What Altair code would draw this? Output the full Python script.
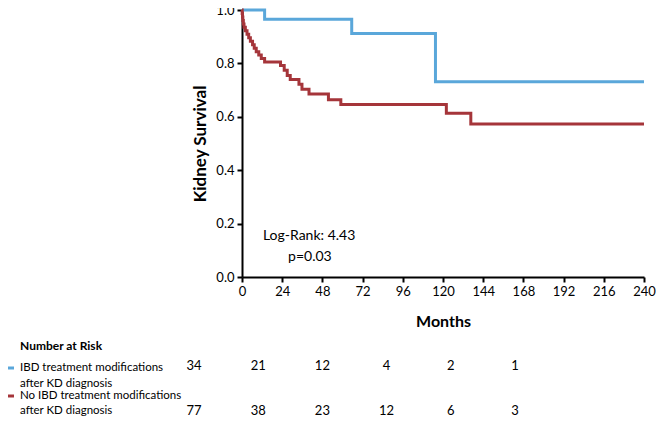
import altair as alt
import pandas as pd

# ---- data ----
blue_name = "IBD treatment modifications after KD diagnosis"
red_name = "No IBD treatment modifications after KD diagnosis"

blue_t = [0, 13.5, 65.5, 115.5, 240]
blue_s = [1.0, 0.965, 0.912, 0.731, 0.731]

red_t = [0, 0.1, 0.3, 0.5, 0.8, 1.2, 2.0, 3.0, 4.0, 5.0, 6.3, 7.3, 8.5, 10.0, 11.5, 13.5,
         23.0, 25.2, 27.0, 28.8, 34.0, 35.8, 40.0, 51.6, 59.0, 122.0, 136.6, 240]
red_s = [1.0, 0.987, 0.974, 0.961, 0.948, 0.935, 0.922, 0.909, 0.896, 0.883, 0.870, 0.857,
         0.844, 0.831, 0.818, 0.805, 0.792, 0.774, 0.755, 0.740, 0.722, 0.703, 0.685,
         0.664, 0.646, 0.613, 0.573, 0.573]

risk_months = [0, 48, 96, 144, 192, 240]
risk_blue = [34, 21, 12, 4, 2, 1]
risk_red = [77, 38, 23, 12, 6, 3]

x_ticks = [0, 24, 48, 72, 96, 120, 144, 168, 192, 216, 240]
y_ticks = [0.0, 0.2, 0.4, 0.6, 0.8, 1.0]

ann_t = [12.5, 27.5]
ann_s = [0.154, 0.075]
ann_txt = ["Log-Rank: 4.43", "p=0.03"]

BLUE = "#5aa7da"
RED = "#a5353a"
FONT = "Lato"

km = pd.DataFrame(
    {"t": blue_t + red_t,
     "s": blue_s + red_s,
     "g": [blue_name] * len(blue_t) + [red_name] * len(red_t)}
)

W, H = 402, 267

xscale = alt.Scale(domain=[0, 240], nice=False)
yscale = alt.Scale(domain=[0, 1], nice=False)

lines = alt.Chart(km).mark_line(interpolate="step-after", strokeWidth=3).encode(
    x=alt.X("t:Q", scale=xscale,
            axis=alt.Axis(values=x_ticks, title="Months", titleFontSize=16,
                          titleFontWeight="bold", titlePadding=15, labelFlush=False)),
    y=alt.Y("s:Q", scale=yscale,
            axis=alt.Axis(values=y_ticks, format=".1f", title="Kidney Survival",
                          titleFontSize=17, titleFontWeight="bold", titlePadding=6)),
    color=alt.Color("g:N", scale=alt.Scale(domain=[blue_name, red_name], range=[BLUE, RED]),
                    legend=None),
)

ann = pd.DataFrame({"t": ann_t, "s": ann_s, "txt": ann_txt})
ann_text = alt.Chart(ann).mark_text(align="left", baseline="middle", fontSize=14,
                                    font=FONT, color="black").encode(
    x=alt.X("t:Q", scale=xscale), y=alt.Y("s:Q", scale=yscale), text="txt:N")

main = alt.layer(lines, ann_text)

risk = pd.DataFrame({
    "m": risk_months + risk_months,
    "n": risk_blue + risk_red,
    "row": [0] * 6 + [1] * 6,
})
risk_layer = alt.Chart(risk).mark_text(fontSize=13, font=FONT, color="black",
                                       baseline="middle", align="center").encode(
    x=alt.X("m:Q", scale=alt.Scale(domain=[0, 240], range=[-48, 273]), axis=None),
    y=alt.Y("row:Q", scale=alt.Scale(domain=[0, 1], range=[356, 401]), axis=None),
    text="n:Q",
)

one = pd.DataFrame({"a": [0]})

hdr = alt.Chart(one).mark_text(
    text="Number at Risk", fontSize=12, fontWeight="bold", font=FONT,
    align="left", baseline="middle", color="black").encode(
    x=alt.value(-222), y=alt.value(336))

leg_rule = alt.Chart(one).mark_rule(color=BLUE, strokeWidth=3).encode(
    x=alt.value(-242), x2=alt.value(-228), y=alt.value(358))
leg_rule2 = alt.Chart(one).mark_rule(color=RED, strokeWidth=3).encode(
    x=alt.value(-242), x2=alt.value(-228), y=alt.value(386))


def label(txt, yy):
    return alt.Chart(one).mark_text(
        text=txt, fontSize=11.5, font=FONT, align="left", baseline="middle",
        color="black").encode(x=alt.value(-222), y=alt.value(yy))


labels = [
    label("IBD treatment modifications", 358),
    label("after KD diagnosis", 374),
    label("No IBD treatment modifications", 386),
    label("after KD diagnosis", 401),
]

chart = alt.layer(main, risk_layer, hdr, leg_rule, leg_rule2, *labels).resolve_scale(
    x="independent", y="independent"
).properties(
    width=W, height=H,
    autosize=alt.AutoSizeParams(type="none"),
    padding={"left": 234, "top": 2, "right": 12, "bottom": 142},
).configure_view(stroke=None).configure_axis(
    grid=False, domainColor="black", domainWidth=2, tickColor="black", tickWidth=2,
    tickSize=5, labelFont=FONT, titleFont=FONT, labelFontSize=13, labelColor="black",
    titleColor="black", labelPadding=3,
)

chart.save("out.html", embed_options={"renderer": "svg", "actions": False})
